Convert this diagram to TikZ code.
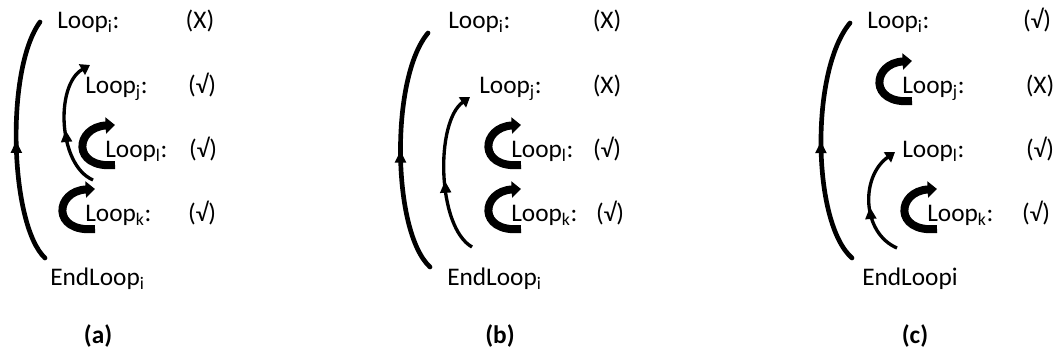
\documentclass[tikz,border=0pt]{standalone}
\usepackage{fontspec}
\setmainfont{Carlito}
\usetikzlibrary{arrows.meta,decorations.markings}

\tikzset{
  lbl/.style={inner sep=0pt, anchor=base west, font=\fontsize{19}{23}\selectfont},
  mrk/.style={inner sep=0pt, anchor=base, font=\fontsize{19}{23}\selectfont},
  capt/.style={inner sep=0pt, anchor=base, font=\fontsize{19}{23}\selectfont\bfseries},
  midarrow/.style={decoration={markings, mark=at position #1 with {\arrow{Triangle[length=9pt,width=8pt]}}}, postaction={decorate}},
  bigarc/.style={line width=3.5pt, line cap=round, midarrow=0.5},
  innerarc/.style={line width=2.5pt, -{Triangle[length=7pt,width=9pt]}, midarrow=0.45},
  curl/.style={line width=6pt, -{Triangle[length=7pt,width=12pt]}}
}

\begin{document}
\begin{tikzpicture}[x=0.75pt, y=-0.75pt]
  \useasboundingbox (0,0) rectangle (1059,357);

  % (a)
  \node[lbl] (liA)  at (57,28)  {Loop\textsubscript{i}:};
  \node[lbl] (ljA)  at (85,93)  {Loop\textsubscript{j}:};
  \node[lbl] (llA)  at (105,157) {Loop\textsubscript{l}:};
  \node[lbl] (lkA)  at (85,221) {Loop\textsubscript{k}:};
  \node[lbl] (endA) at (50,285) {EndLoop\textsubscript{i}};
  \node[mrk] (miA) at (200,28)  {(X)};
  \node[mrk] (mjA) at (202,93)  {(√)};
  \node[mrk] (mlA) at (203,157) {(√)};
  \node[mrk] (mkA) at (202,221) {(√)};
  \node[capt] (capA) at (98,343) {(a)};

  % (b)
  \node[lbl] (liB)  at (448,28)  {Loop\textsubscript{i}:};
  \node[lbl] (ljB)  at (479,93)  {Loop\textsubscript{j}:};
  \node[lbl] (llB)  at (511,157) {Loop\textsubscript{l}:};
  \node[lbl] (lkB)  at (511,221) {Loop\textsubscript{k}:};
  \node[lbl] (endB) at (447,285) {EndLoop\textsubscript{i}};
  \node[mrk] (miB) at (607,28)  {(X)};
  \node[mrk] (mjB) at (607,93)  {(X)};
  \node[mrk] (mlB) at (607,157) {(√)};
  \node[mrk] (mkB) at (610,221) {(√)};
  \node[capt] (capB) at (500,343) {(b)};

  % (c)
  \node[lbl] (liC)  at (867,28)  {Loop\textsubscript{i}:};
  \node[lbl] (ljC)  at (902,93)  {Loop\textsubscript{j}:};
  \node[lbl] (llC)  at (902,157) {Loop\textsubscript{l}:};
  \node[lbl] (lkC)  at (927,221) {Loop\textsubscript{k}:};
  \node[lbl] (endC) at (862,285) {EndLoopi};
  \node[mrk] (miC) at (1037,28)  {(√)};
  \node[mrk] (mjC) at (1040,93)  {(X)};
  \node[mrk] (mlC) at (1040,157) {(√)};
  \node[mrk] (mkC) at (1036,221) {(√)};
  \node[capt] (capC) at (915,343) {(c)};

  % outer loops
  \draw[bigarc] ([shift={(-5,-27)}]endA.base west) .. controls +(-35,-33) and +(-35,48) .. ([shift={(-17,-6)}]liA.base west);
  \draw[bigarc] ([shift={(-17,-18)}]endB.base west) .. controls +(-38,-35) and +(-38,45) .. ([shift={(-20,5)}]liB.base west);
  \draw[bigarc] ([shift={(-10,-27)}]endC.base west) .. controls +(-40,-35) and +(-40,48) .. ([shift={(-17,-5)}]liC.base west);

  % inner loops
  \draw[innerarc] ([shift={(-12,23)}]llA.base west) .. controls +(-35,-15) and +(-35,20) .. ([shift={(5,-28)}]ljA.base west);
  \draw[innerarc] ([shift={(-39,26)}]lkB.base west) .. controls +(-35,-20) and +(-35,25) .. ([shift={(-9,4)}]ljB.base west);
  \draw[innerarc] ([shift={(-30,27)}]lkC.base west) .. controls +(-35,-15) and +(-35,25) .. ([shift={(-7,-5)}]llC.base west);

  % self loops
  \foreach \n in {llA,lkA,llB,lkB,ljC,lkC}
    \draw[curl] ([shift={(10,8)}]\n.base west) .. controls +(-44,4) and +(-40,2) .. ([shift={(10,-32)}]\n.base west);
\end{tikzpicture}
\end{document}
